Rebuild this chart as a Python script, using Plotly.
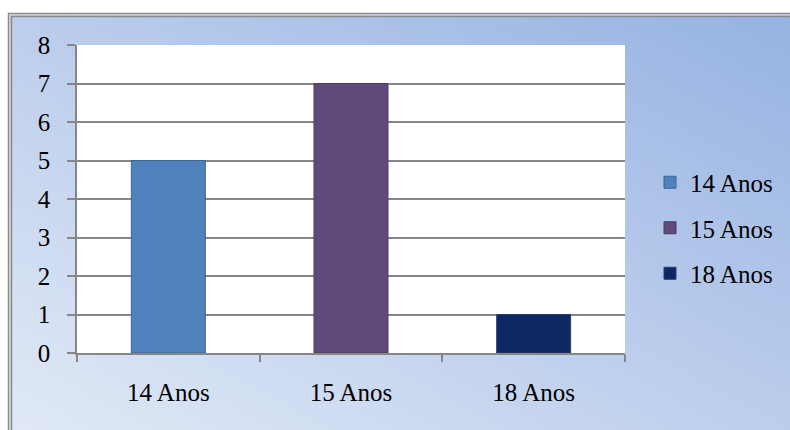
import base64
import plotly.graph_objects as go

# ---- data ----
categories = ["14 Anos", "15 Anos", "18 Anos"]
values = [5, 7, 1]
series_names = ["14 Anos", "15 Anos", "18 Anos"]
bar_colors = ["#4f81bd", "#604a7b", "#0d2762"]
line_colors = ["#3b6494", "#4a3a62", "#2a3f6e"]
y_ticks = [0, 1, 2, 3, 4, 5, 6, 7, 8]

W, H = 790, 430
L, R, T, B = 77, 165, 45, 77
PW, PH = W - L - R, H - T - B


def px_x(px):
    return (px - L) / PW


def px_y(py):
    return (H - B - py) / PH


FONT = "Times New Roman, Liberation Serif, DejaVu Serif, serif"

fig = go.Figure()
for i, name in enumerate(series_names):
    fig.add_trace(go.Bar(
        x=[categories[i]], y=[values[i]], name=name,
        legendgroup=name, width=0.405,
        marker=dict(color=bar_colors[i], line=dict(color=line_colors[i], width=1)),
    ))

svg = (
    '<svg xmlns="http://www.w3.org/2000/svg" width="782" height="417">'
    '<defs><linearGradient id="g" x1="0" y1="1" x2="1" y2="0">'
    '<stop offset="0" stop-color="#e1e9f6"/>'
    '<stop offset="1" stop-color="#96b2e2"/>'
    '</linearGradient></defs>'
    '<rect width="782" height="417" fill="url(#g)"/></svg>'
)
src = "data:image/svg+xml;base64," + base64.b64encode(svg.encode()).decode()

shapes = [
    dict(type="rect", xref="paper", yref="paper", x0=0, x1=1, y0=0, y1=1,
         fillcolor="white", line=dict(width=0), layer="below"),
    dict(type="rect", xref="paper", yref="paper",
         x0=px_x(8.5), x1=px_x(800), y0=px_y(13.5), y1=px_y(440),
         line=dict(color="#8a8a8a", width=1.5), fillcolor="rgba(0,0,0,0)", layer="above"),
    dict(type="rect", xref="paper", yref="paper",
         x0=px_x(10), x1=px_x(800), y0=px_y(15), y1=px_y(440),
         line=dict(color="#d4d4d4", width=1.5), fillcolor="rgba(0,0,0,0)", layer="above"),
    dict(type="rect", xref="paper", yref="paper",
         x0=px_x(11.5), x1=px_x(800), y0=px_y(16.5), y1=px_y(440),
         line=dict(color="#8a8a8a", width=1.5), fillcolor="rgba(0,0,0,0)", layer="above"),
]

fig.update_layout(
    width=W, height=H,
    margin=dict(l=L, r=R, t=T, b=B, autoexpand=False),
    paper_bgcolor="white", plot_bgcolor="white",
    barmode="overlay",
    font=dict(family=FONT, size=25, color="black"),
    showlegend=True,
    legend=dict(x=px_x(650), xanchor="left", y=px_y(228), yanchor="middle",
                bgcolor="rgba(0,0,0,0)", traceorder="grouped", tracegroupgap=10,
                font=dict(family=FONT, size=25, color="black")),
    images=[dict(source=src, xref="paper", yref="paper",
                 x=px_x(8), y=px_y(13), sizex=px_x(790) - px_x(8),
                 sizey=px_y(13) - px_y(430), sizing="stretch",
                 xanchor="left", yanchor="top", layer="below")],
    shapes=shapes,
    xaxis=dict(type="category", categoryorder="array", categoryarray=categories,
               range=[-0.5, 2.5], tickson="boundaries", ticks="outside", ticklen=7,
               tickcolor="#868686", tickwidth=1.5, showline=True, linecolor="#868686",
               linewidth=1.5, showgrid=False, ticklabelstandoff=16,
               tickfont=dict(family=FONT, size=25, color="black")),
    yaxis=dict(range=[0, 8], tickvals=y_ticks, ticks="outside", ticklen=8,
               tickcolor="#868686", tickwidth=1.5, showline=True, linecolor="#868686",
               linewidth=1.5, showgrid=True, gridcolor="#868686", gridwidth=1.5,
               zeroline=False, ticklabelstandoff=12,
               tickfont=dict(family=FONT, size=25, color="black")),
)

fig.write_html("out.html")
